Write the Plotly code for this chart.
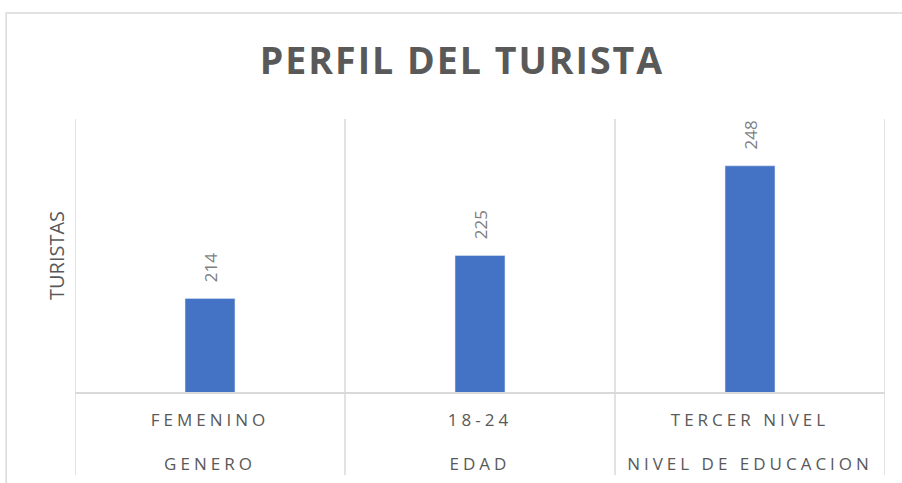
import plotly.graph_objects as go

# datos
grupos = ["GENERO", "EDAD", "NIVEL DE EDUCACION"]
categorias = ["FEMENINO", "18-24", "TERCER NIVEL"]
turistas = [214, 225, 248]

GRIS = "#595959"
LINEA = "#d9d9d9"

etiquetas = [f"{c}<br>\u00a0<br>{g}" for c, g in zip(categorias, grupos)]

fig = go.Figure()
fig.add_trace(go.Bar(
    x=categorias, y=turistas,
    marker=dict(color="#4472C4"),
    text=turistas, texttemplate="\u00a0\u00a0\u00a0%{y}",
    textposition="outside", textangle=-90, cliponaxis=False,
    textfont=dict(family="Open Sans", size=17, color="#7f7f7f"),
    hoverinfo="skip",
))

# marco del area del grafico (recortado a la derecha y abajo)
fig.add_shape(type="rect", xref="paper", yref="paper",
              x0=-0.085, x1=1.04, y0=-0.4, y1=1.388,
              line=dict(color=LINEA, width=1.5), layer="below")

# divisores bajo el eje, entre categorias
for i in range(len(categorias) + 1):
    fig.add_shape(type="line", xref="x", yref="paper",
                  x0=i - 0.5, x1=i - 0.5, y0=-0.304, y1=1,
                  line=dict(color=LINEA, width=1.5), layer="below")

fig.update_layout(
    width=902, height=483,
    margin=dict(l=75, r=17, t=119, b=91),
    paper_bgcolor="white", plot_bgcolor="white",
    showlegend=False,
    bargap=0.815,
    title=dict(text="<b>PERFIL DEL TURISTA</b>", x=462 / 902, xanchor="center",
               y=1 - 61 / 483, yanchor="middle",
               font=dict(family="Open Sans", size=37.5, color=GRIS)),
    font=dict(family="Open Sans", color=GRIS),
)
fig.update_xaxes(
    type="category", range=[-0.5, len(categorias) - 0.5], automargin=False,
    tickvals=categorias, ticktext=etiquetas,
    showgrid=False, showline=True, linecolor=LINEA, linewidth=1.5,
    ticks="", ticklabelstandoff=12,
    tickfont=dict(family="Open Sans", size=17, color=GRIS),
)
fig.update_yaxes(
    range=[190, 260], automargin=False, showgrid=False, zeroline=False,
    showticklabels=False, ticks="",
    title=dict(text="TURISTAS", standoff=4, font=dict(family="Open Sans", size=20, color=GRIS)),
)

espaciado = """
document.body.style.margin = '0';
document.querySelectorAll('.xtick text').forEach(function(t){t.style.letterSpacing='4px';});
document.querySelectorAll('.gtitle').forEach(function(t){t.style.letterSpacing='2px';});
"""
fig.write_html("out.html", post_script=espaciado, config={"displayModeBar": False})
